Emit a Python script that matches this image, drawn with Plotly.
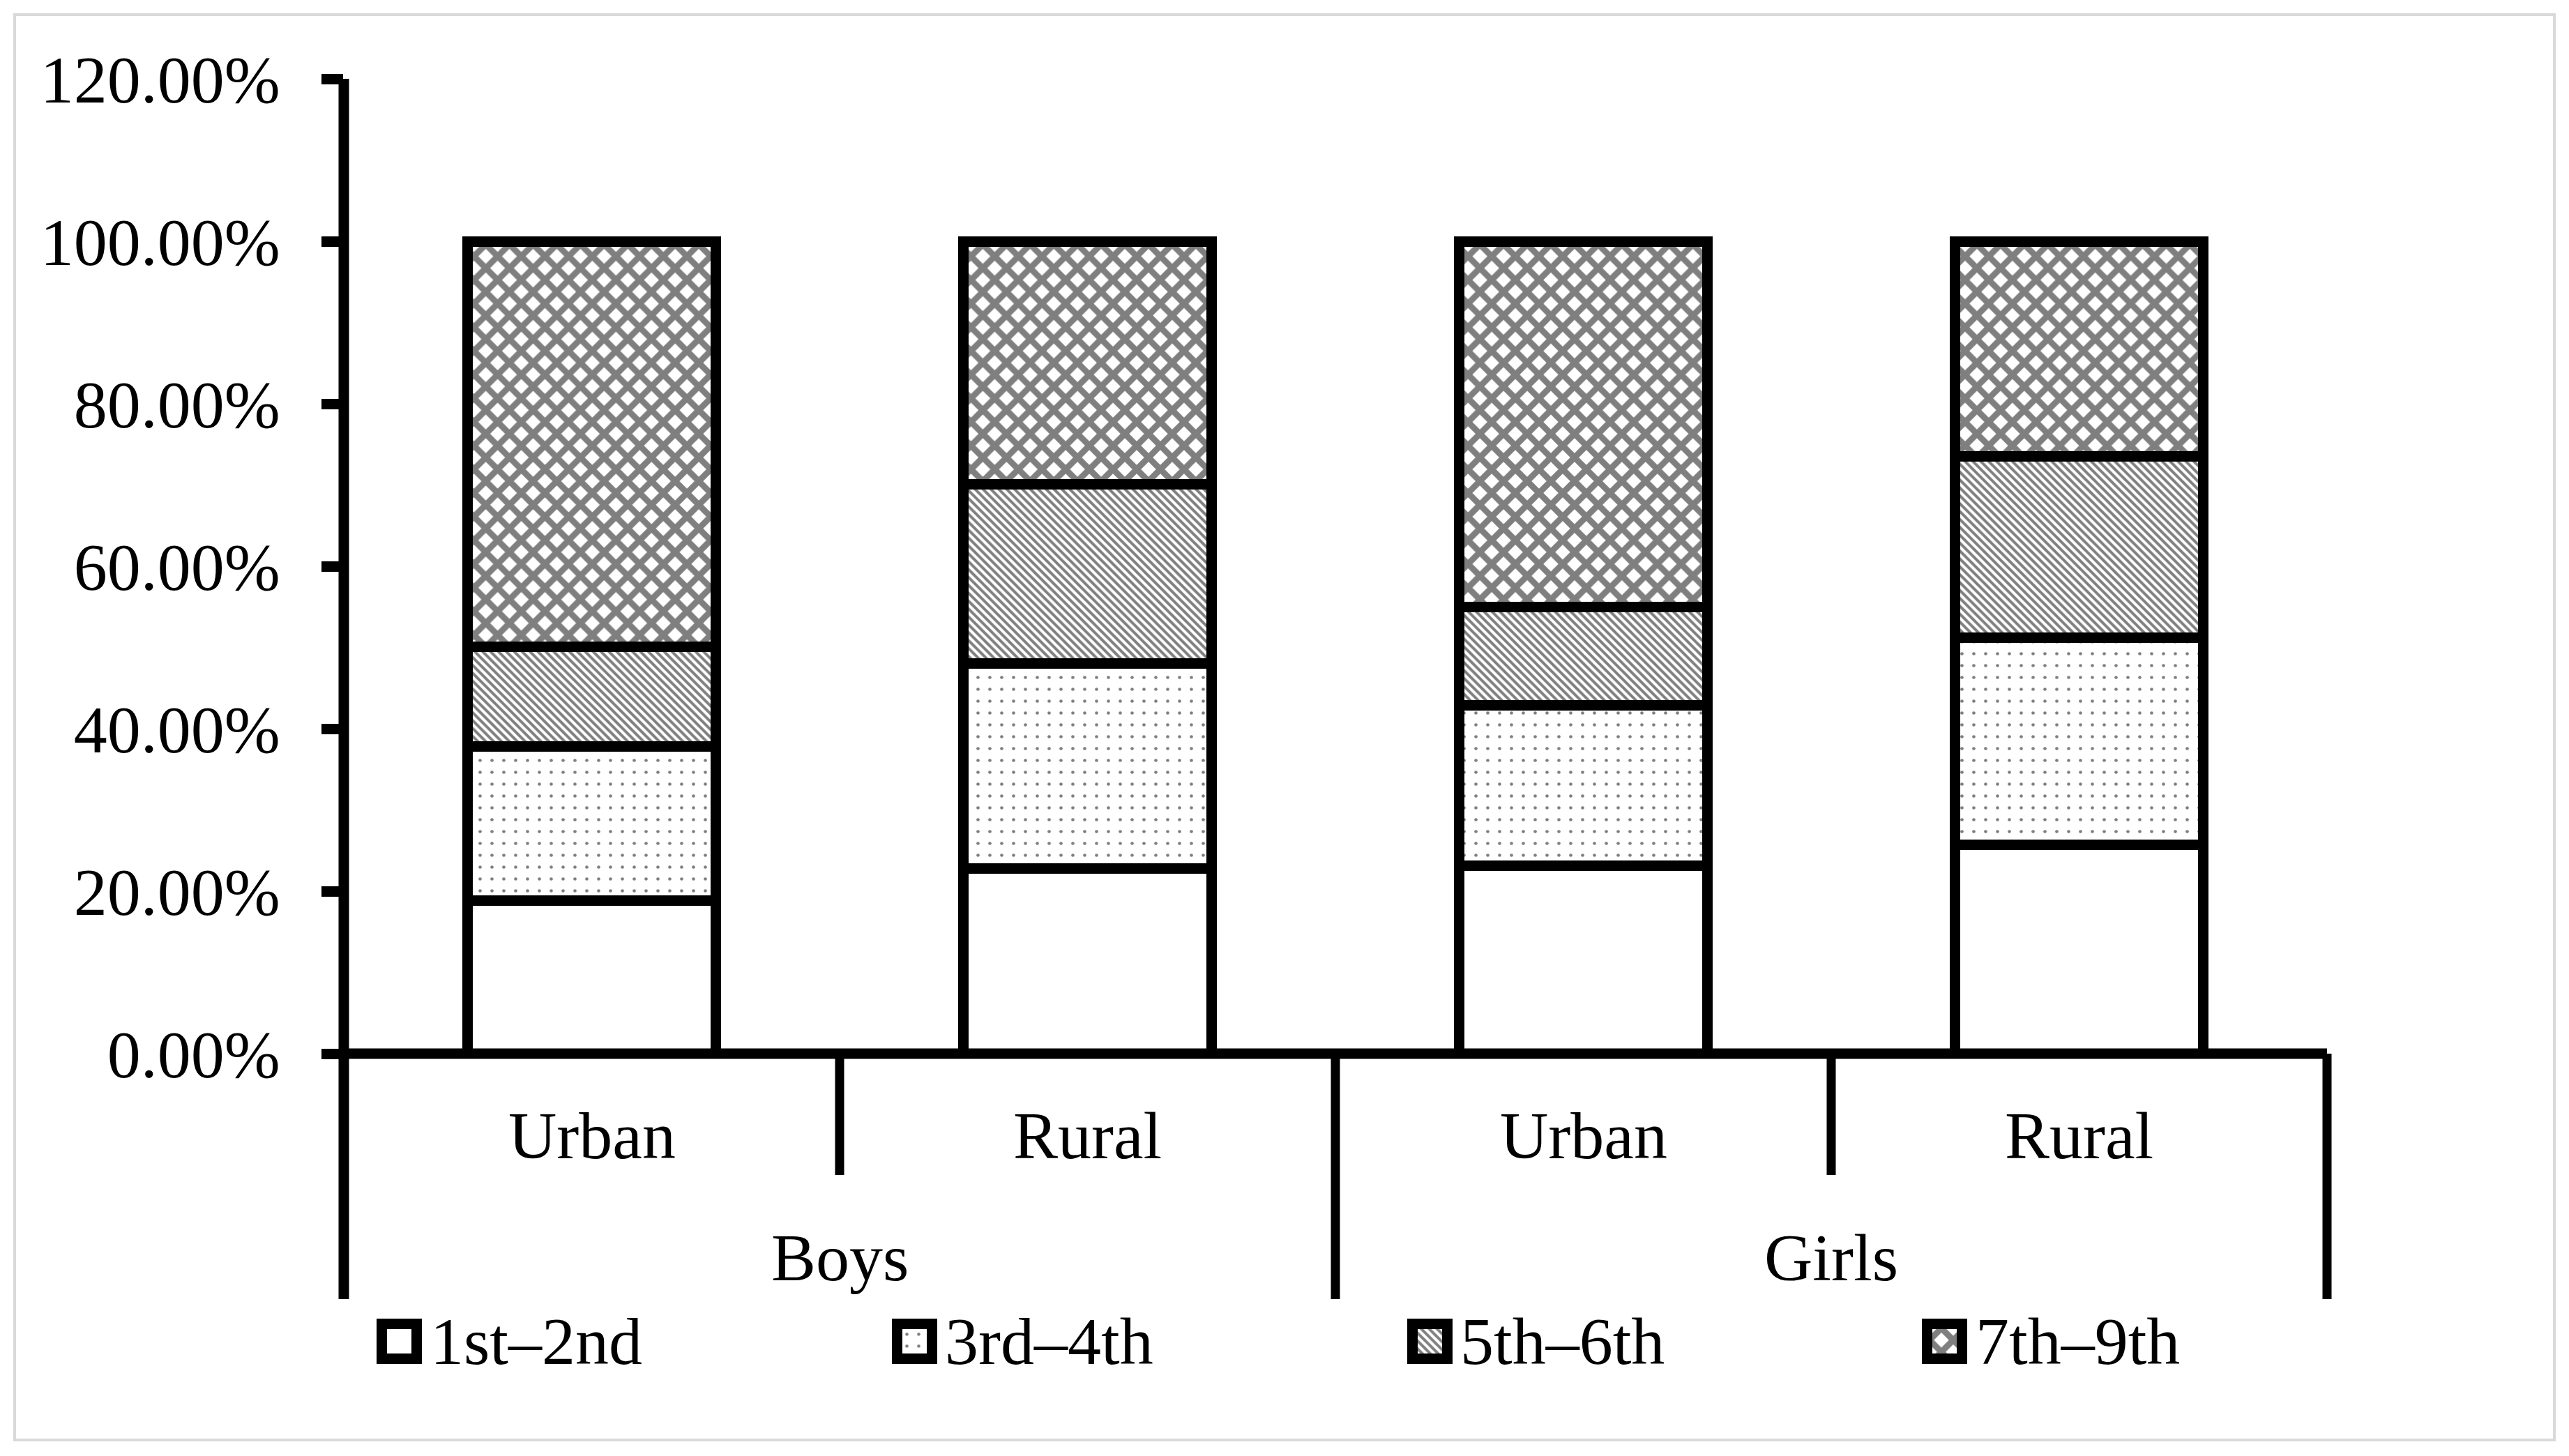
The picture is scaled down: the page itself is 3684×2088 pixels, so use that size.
import plotly.graph_objects as go

# ---------------- data ----------------
groups = ["Boys", "Boys", "Girls", "Girls"]
areas = ["Urban", "Rural", "Urban", "Rural"]
series_names = ["1st–2nd", "3rd–4th", "5th–6th", "7th–9th"]
grade_1_2 = [18.8, 22.8, 23.1, 25.7]
grade_3_4 = [19.0, 25.2, 19.8, 25.5]
grade_5_6 = [12.3, 22.1, 12.1, 22.3]
grade_7_9 = [49.9, 29.9, 45.0, 26.5]
y_ticks = [0, 20, 40, 60, 80, 100, 120]

series_values = [grade_1_2, grade_3_4, grade_5_6, grade_7_9]

# ---------------- styles ----------------
FONT = "Liberation Serif, Times New Roman, serif"
FS = 96
W, H = 3684, 2088
OFF = 8                      # page body margin
L, T = 493 - OFF, 113 - OFF
PW = 2844
R = W - L - PW
PLOT_BOTTOM = 1965 - OFF     # bottom of whole plotting region (page px)
B = H - PLOT_BOTTOM
PH = PLOT_BOTTOM - T
MAIN_Y0 = (PLOT_BOTTOM - (1511 - OFF)) / PH
LW = 15


def py(ref_px):
    """reference pixel row -> paper y"""
    return (PLOT_BOTTOM - (ref_px - OFF)) / PH


def pxx(ref_px):
    return (ref_px - 493) / PW


patterns = [
    dict(shape=""),
    dict(shape=".", size=17, solidity=0.06),
    dict(shape="\\", size=8, solidity=0.5),
    dict(shape="x", size=24, solidity=0.6),
]

cat_keys = [f"{g} {a}" for g, a in zip(groups, areas)]
n = len(cat_keys)

fig = go.Figure()
for name, vals, pat in zip(series_names, series_values, patterns):
    p = dict(pat)
    p.update(fgcolor="black", bgcolor="white")
    fig.add_trace(go.Bar(
        x=cat_keys, y=vals, name=name, showlegend=False,
        marker=dict(color="white", line=dict(color="black", width=LW), pattern=p),
        width=0.5, xaxis="x", yaxis="y",
    ))

# legend swatches (one small bar per series on a hidden helper axis)
for i, (name, pat) in enumerate(zip(series_names, patterns)):
    p = dict(pat)
    p.update(fgcolor="black", bgcolor="white")
    fig.add_trace(go.Bar(
        x=[i], y=[1], name=name, showlegend=False, hoverinfo="skip",
        marker=dict(color="white", line=dict(color="black", width=15), pattern=p),
        width=50 / 738.8, xaxis="x2", yaxis="y2",
    ))

shapes = []
shapes.append(dict(type="rect", xref="paper", yref="paper",
                   x0=pxx(21), x1=pxx(3663), y0=py(2065), y1=py(21),
                   line=dict(color="#d9d9d9", width=4), fillcolor="rgba(0,0,0,0)", layer="below"))
# y-axis line (continues as left divider)
shapes.append(dict(type="line", xref="paper", yref="paper", x0=0, x1=0,
                   y0=py(1863), y1=1, line=dict(color="black", width=LW)))
# x-axis line
shapes.append(dict(type="line", xref="paper", yref="paper", x0=0, x1=1,
                   y0=MAIN_Y0, y1=MAIN_Y0, line=dict(color="black", width=LW)))
# category dividers
for i in range(1, n + 1):
    outer = (i == n) or (groups[i] != groups[i - 1])
    shapes.append(dict(type="line", xref="paper", yref="paper", x0=i / n, x1=i / n,
                       y0=MAIN_Y0, y1=py(1863) if outer else py(1685),
                       line=dict(color="black", width=13)))

annotations = []
for i, a in enumerate(areas):
    annotations.append(dict(x=(i + 0.5) / n, y=py(1628), xref="paper", yref="paper", text=a,
                            showarrow=False, xanchor="center", yanchor="middle",
                            font=dict(family=FONT, size=FS, color="black")))
seen = []
for g in groups:
    if g not in seen:
        seen.append(g)
for g in seen:
    idx = [i for i, gg in enumerate(groups) if gg == g]
    annotations.append(dict(x=(sum(idx) / len(idx) + 0.5) / n, y=py(1803), xref="paper",
                            yref="paper", text=g, showarrow=False, xanchor="center",
                            yanchor="middle", font=dict(family=FONT, size=FS, color="black")))
for i, name in enumerate(series_names):
    annotations.append(dict(x=i + 0.057, y=0.5, xref="x2", yref="y2", text=name,
                            showarrow=False, xanchor="left", yanchor="middle",
                            font=dict(family=FONT, size=FS, color="black")))

LEG_SP = 738.8
lr0 = -79.5 / LEG_SP
lr1 = lr0 + PW / LEG_SP

fig.update_layout(
    width=W, height=H,
    margin=dict(l=L, r=R, t=T, b=B, pad=0),
    paper_bgcolor="white", plot_bgcolor="white",
    font=dict(family=FONT, size=FS, color="black"),
    barmode="stack",
    showlegend=False,
    xaxis=dict(type="category", range=[-0.5, n - 0.5], showline=False, domain=[0, 1],
               showticklabels=False, ticks="", showgrid=False, zeroline=False, anchor="y"),
    yaxis=dict(range=[0, 120], domain=[MAIN_Y0, 1], tickmode="array", tickvals=y_ticks,
               ticktext=[f"{v:.2f}%" for v in y_ticks], anchor="x",
               ticks="outside", ticklen=31, tickwidth=LW, tickcolor="black",
               showline=False, showgrid=False, zeroline=False, ticklabelstandoff=40,
               tickfont=dict(family=FONT, size=FS, color="black")),
    xaxis2=dict(range=[lr0, lr1], domain=[0, 1], anchor="y2", visible=False),
    yaxis2=dict(range=[-0.33, 1.89], domain=[0, 0.06], anchor="x2", visible=False),
    shapes=shapes,
    annotations=annotations,
)

fig.write_html("out.html")
